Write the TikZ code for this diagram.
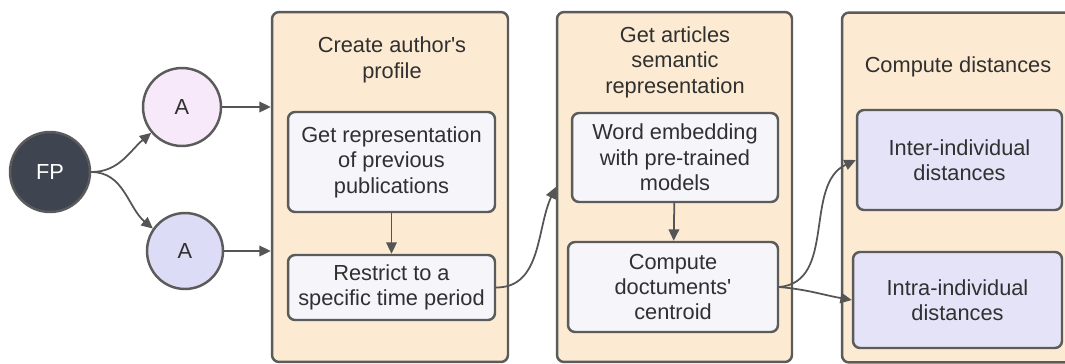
\documentclass[tikz,border=0pt]{standalone}
\usepackage{fontspec}
\setmainfont{Liberation Sans}
\usetikzlibrary{arrows.meta}
\definecolor{panelfill}{HTML}{FCEBD2}
\definecolor{edge}{HTML}{5B5B5B}
\definecolor{boxfill}{HTML}{F5F5FA}
\definecolor{lav}{HTML}{E5E3F8}
\definecolor{pinkA}{HTML}{F7E9FA}
\definecolor{blueA}{HTML}{DCDCF6}
\definecolor{fpfill}{HTML}{3E4450}
\definecolor{txt}{HTML}{303030}
\definecolor{arr}{HTML}{555555}
\begin{document}
\begin{tikzpicture}[x=0.02cm,y=-0.02cm,
  panel/.style={draw=edge, fill=panelfill, line width=1.4pt, rounded corners=4pt, inner sep=0pt, minimum height=7.0cm},
  stepbox/.style={draw=edge, line width=1.4pt, rounded corners=4pt, fill=boxfill, align=center, text=txt, inner sep=0pt},
  lavbox/.style={stepbox, fill=lav},
  title/.style={align=center, text=txt, inner sep=0pt},
  circ/.style={circle, draw=edge, line width=1.4pt, text=txt, inner sep=0pt},
  conn/.style={draw=arr, line width=1pt, -{Triangle[length=6.5pt,width=6pt]}},
  font=\fontsize{12.4}{14.5}\selectfont]
\clip (0,0) rectangle (1065,363);
\fill[white] (0,0) rectangle (1065,363);

% panels
\node[panel, minimum width=4.72cm] (p1) at (390,187) {};
\node[panel, minimum width=4.70cm] (p2) at (674.5,187) {};
\node[panel, minimum width=4.76cm] (p3) at (961,187.5) {};

% titles
\node[title] (t1) at (392,60) {Create author\textquotesingle s\\profile};
\node[title] (t2) at (675,62) {Get articles\\semantic\\representation};
\node[title] (t3) at (958,67) {Compute distances};

% inner boxes
\node[stepbox, minimum width=4.14cm, minimum height=2.0cm] (b11) at (391.5,162) {Get representation\\of previous\\publications};
\node[stepbox, minimum width=4.14cm, minimum height=1.3cm] (b12) at (391.5,287.5) {Restrict to a\\specific time period};
\node[stepbox, minimum width=4.12cm, minimum height=1.78cm] (b21) at (675,157.5) {Word embedding\\with pre-trained\\models};
\node[stepbox, minimum width=4.2cm, minimum height=1.8cm] (b22) at (673,287) {Compute\\doctuments\textquotesingle\\centroid};
\node[lavbox, minimum width=4.1cm, minimum height=2.0cm] (b31) at (959.5,160) {Inter-individual\\distances};
\node[lavbox, minimum width=4.18cm, minimum height=1.92cm] (b32) at (957.5,300) {Intra-individual\\distances};

% circles
\node[circ, fill=fpfill, text=white, minimum size=1.6cm] (fp) at (50,172) {FP};
\node[circ, fill=pinkA, minimum size=1.56cm] (a1) at (182,107) {A};
\node[circ, fill=blueA, minimum size=1.52cm] (a2) at (185,251) {A};

% connectors
\draw[conn] (fp.east) to[out=0, in=220] (a1.220);
\draw[conn] (fp.east) to[out=0, in=140] (a2.145);
\draw[conn] (a1.east) -- (a1.east -| p1.west);
\draw[conn] (a2.east) -- (a2.east -| p1.west);
\draw[conn] (b11) -- (b12);
\draw[conn] (b21) -- (b22);
\draw[conn] (b12.east) to[out=0, in=245] (p2.west);
\draw[conn] (b22.east) to[out=5, in=205] (b31.west);
\draw[conn] (b22.east) to[out=-5, in=170] (b32.west);
\end{tikzpicture}
\end{document}
